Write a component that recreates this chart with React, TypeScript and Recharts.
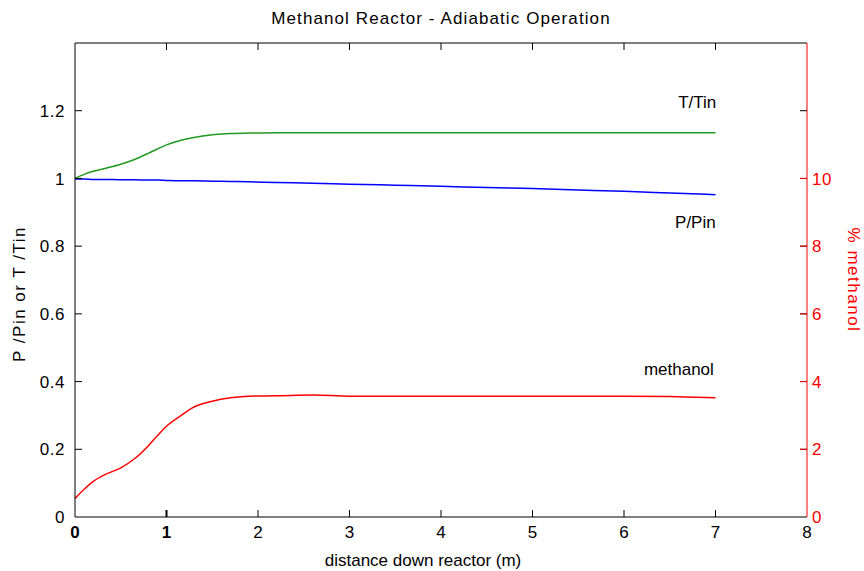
import { LineChart, Line, XAxis, YAxis, ReferenceLine, ReferenceDot } from 'recharts';

// distance down reactor (m)
const distance = [0, 0.1, 0.2, 0.35, 0.5, 0.65, 0.8, 0.9, 1.0, 1.15, 1.3, 1.5, 1.7, 1.9, 2.2, 2.6, 3, 3.5, 4, 4.5, 5, 5.5, 6, 6.5, 6.9, 7];
// T/Tin
const tRatio = [1.0, 1.012, 1.021, 1.031, 1.042, 1.056, 1.074, 1.087, 1.099, 1.112, 1.121, 1.129, 1.133, 1.134, 1.135, 1.135, 1.135, 1.135, 1.135, 1.135, 1.135, 1.135, 1.135, 1.135, 1.135, 1.135];
// P/Pin
const pRatio = [0.998, 0.998, 0.997, 0.997, 0.996, 0.996, 0.995, 0.995, 0.994, 0.993, 0.993, 0.992, 0.991, 0.99, 0.988, 0.986, 0.983, 0.98, 0.977, 0.973, 0.97, 0.966, 0.962, 0.957, 0.953, 0.952];
// % methanol (right axis)
const methanol = [0.55, 0.82, 1.05, 1.28, 1.45, 1.72, 2.1, 2.4, 2.68, 2.98, 3.25, 3.42, 3.52, 3.57, 3.58, 3.6, 3.57, 3.57, 3.57, 3.57, 3.57, 3.57, 3.57, 3.56, 3.53, 3.52];

const xTicks = [0, 1, 2, 3, 4, 5, 6, 7, 8];
const leftTicks = [0, 0.2, 0.4, 0.6, 0.8, 1, 1.2];
const rightTicks = [0, 2, 4, 6, 8, 10];

const annotations = [
  { text: 'T/Tin', x: 6.8, y: 1.226 },
  { text: 'P/Pin', x: 6.78, y: 0.871 },
  { text: 'methanol', x: 6.6, y: 0.438 },
];

const data = distance.map((d, i) => ({
  distance: d,
  t: tRatio[i],
  p: pRatio[i],
  methanol: methanol[i],
}));

const W = 864;
const H = 571;
const MARGIN = { top: 43, right: 7, bottom: 24, left: 15 };
const LEFT_W = 60;
const RIGHT_W = 50;
const X_H = 30;
const PLOT_W = W - MARGIN.left - MARGIN.right - LEFT_W - RIGHT_W;
const PLOT_H = H - MARGIN.top - MARGIN.bottom - X_H;
const TICK_LEN = 7;
const GAP_X = 9;
const GAP_L = 10;
const GAP_R = 5;
const FONT = '"Liberation Sans", Arial, Helvetica, sans-serif';
const FS = 17;
const RED = '#ff0000';

function BottomTick(props: any) {
  const { x, y, payload } = props;
  const v = payload.value;
  const axisY = y - GAP_X;
  const strong = v <= 1;
  const edge = v === 0 || v === 8;
  return (
    <g>
      {!edge && (
        <>
          <line x1={x} x2={x} y1={axisY} y2={axisY - TICK_LEN} stroke="#000" strokeWidth={strong ? 2 : 1} />
          <line x1={x} x2={x} y1={axisY - PLOT_H} y2={axisY - PLOT_H + TICK_LEN} stroke="#000" />
        </>
      )}
      <text x={x} y={y} dy="0.71em" textAnchor="middle" fontFamily={FONT} fontSize={FS}
        fontWeight={strong ? 'bold' : 'normal'} fill="#000">
        {v}
      </text>
    </g>
  );
}

function LeftTick(props: any) {
  const { x, y, payload } = props;
  const v = payload.value;
  const axisX = x + GAP_L;
  return (
    <g>
      {v !== 0 && (
        <>
          <line x1={axisX} x2={axisX + TICK_LEN} y1={y} y2={y} stroke="#000" />
          <line x1={axisX + PLOT_W} x2={axisX + PLOT_W - TICK_LEN} y1={y} y2={y} stroke="#000" />
        </>
      )}
      <text x={x} y={y} dy="0.36em" textAnchor="end" fontFamily={FONT} fontSize={FS} fill="#000" letterSpacing={0.5}>
        {v}
      </text>
    </g>
  );
}

function RightTick(props: any) {
  const { x, y, payload } = props;
  const v = payload.value;
  const axisX = x - GAP_R;
  return (
    <g>
      {v !== 0 && <line x1={axisX} x2={axisX - TICK_LEN} y1={y} y2={y} stroke={RED} />}
      <text x={x} y={y} dy="0.36em" textAnchor="start" fontFamily={FONT} fontSize={FS} fill={RED} letterSpacing={0.5}>
        {v}
      </text>
    </g>
  );
}

export default function App() {
  return (
    <div style={{ position: 'absolute', left: 0, top: 0, width: W, height: H, background: '#fff' }}>
      <div
        style={{
          position: 'absolute',
          left: 0,
          width: W,
          top: 9,
          textAlign: 'center',
          paddingLeft: 9,
          fontFamily: FONT,
          fontSize: FS,
          letterSpacing: 1.1,
          color: '#000',
        }}
      >
        Methanol Reactor - Adiabatic Operation
      </div>
      <LineChart width={W} height={H} data={data} margin={MARGIN}>
        <XAxis
          dataKey="distance"
          type="number"
          domain={[0, 8]}
          ticks={xTicks}
          height={X_H}
          tickSize={0}
          tickMargin={GAP_X}
          tickLine={false}
          stroke="#000"
          tick={<BottomTick />}
          label={{
            value: 'distance down reactor (m)',
            position: 'insideBottom',
            offset: -19,
            dx: -18,
            fill: '#000',
            fontFamily: FONT,
            fontSize: FS,
          }}
        />
        <YAxis
          yAxisId="left"
          domain={[0, 1.4]}
          ticks={leftTicks}
          width={LEFT_W}
          tickSize={0}
          tickMargin={GAP_L}
          tickLine={false}
          stroke="#000"
          tick={<LeftTick />}
          label={{
            value: 'P /Pin or T /Tin',
            angle: -90,
            position: 'insideLeft',
            offset: 4,
            dy: 14,
            fill: '#000',
            fontFamily: FONT,
            fontSize: FS,
            letterSpacing: 1.5,
            style: { textAnchor: 'middle' },
          }}
        />
        <YAxis
          yAxisId="right"
          orientation="right"
          domain={[0, 14]}
          ticks={rightTicks}
          width={RIGHT_W}
          tickSize={0}
          tickMargin={GAP_R}
          tickLine={false}
          stroke={RED}
          tick={<RightTick />}
          label={{
            value: '% methanol',
            angle: 90,
            position: 'insideRight',
            offset: 3,
            fill: RED,
            fontFamily: FONT,
            fontSize: FS,
            letterSpacing: 1.5,
            style: { textAnchor: 'middle' },
          }}
        />
        <ReferenceLine yAxisId="left" y={1.4} stroke="#000" />
        <Line yAxisId="left" type="monotone" dataKey="t" stroke="#229922" strokeWidth={1.5} dot={false} isAnimationActive={false} />
        <Line yAxisId="left" type="monotone" dataKey="p" stroke="#0000ff" strokeWidth={1.5} dot={false} isAnimationActive={false} />
        <Line yAxisId="right" type="monotone" dataKey="methanol" stroke={RED} strokeWidth={1.5} dot={false} isAnimationActive={false} />
        {annotations.map((a) => (
          <ReferenceDot
            key={a.text}
            yAxisId="left"
            x={a.x}
            y={a.y}
            r={0}
            fill="none"
            stroke="none"
            label={{ value: a.text, position: 'center', fill: '#000', fontFamily: FONT, fontSize: FS }}
          />
        ))}
      </LineChart>
    </div>
  );
}
